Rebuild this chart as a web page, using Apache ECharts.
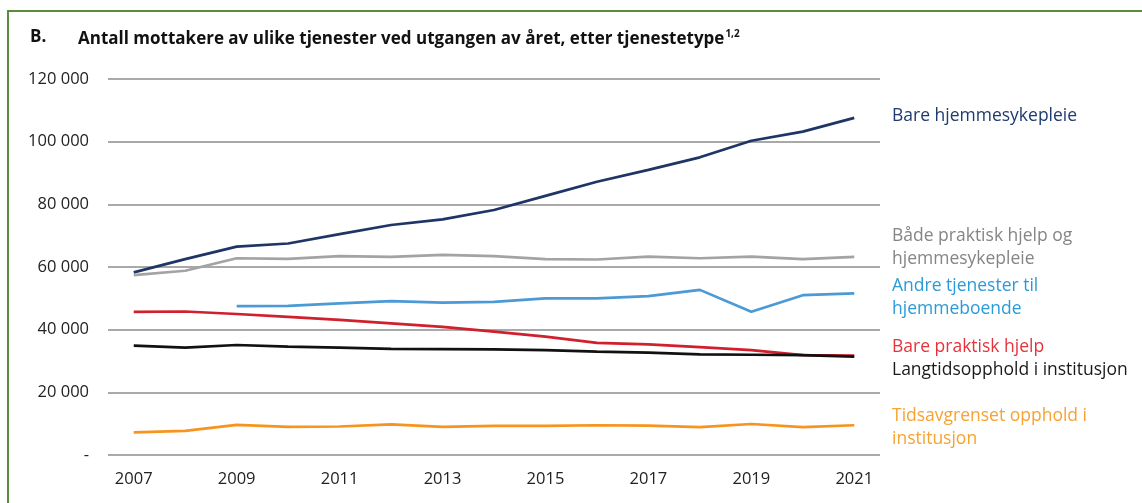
<!DOCTYPE html>
<html>
<head>
<meta charset="utf-8">
<script src="https://cdn.jsdelivr.net/npm/echarts@6/dist/echarts.min.js"></script>
<style>
  html, body { margin: 0; padding: 0; background: #fff; overflow: hidden; width: 1142px; height: 503px; }
  #frame {
    position: absolute; left: 7px; top: 10px; width: 1160px; height: 520px;
    border-left: 2px solid #5b8c3a; border-top: 2px solid #5b8c3a; box-sizing: border-box;
  }
  #chart { position: absolute; left: 0; top: 0; width: 1142px; height: 503px; }
</style>
</head>
<body>
<div id="frame"></div>
<div id="chart"></div>
<script>
var years = ['2007', '2008', '2009', '2010', '2011', '2012', '2013', '2014', '2015', '2016', '2017', '2018', '2019', '2020', '2021']

var bareHjemmesykepleie = [58300, 62500, 66500, 67500, 70500, 73400, 75200, 78200, 82700, 87200, 91000, 95000, 100300, 103200, 107600]
var baadePraktiskOgSykepleie = [57400, 58800, 62800, 62600, 63500, 63200, 63900, 63500, 62500, 62400, 63300, 62800, 63300, 62500, 63200]
var andreTjenester = [null, null, 47500, 47600, 48400, 49100, 48600, 48900, 50000, 50000, 50700, 52700, 45700, 51000, 51600]
var barePraktiskHjelp = [45700, 45800, 45000, 44100, 43100, 42000, 40900, 39400, 37800, 35800, 35300, 34400, 33500, 31900, 31700]
var langtidsopphold = [34900, 34300, 35100, 34600, 34300, 33900, 33800, 33700, 33500, 33000, 32700, 32100, 32000, 31900, 31400]
var tidsavgrenset = [7200, 7700, 9600, 9000, 9100, 9800, 9000, 9300, 9300, 9500, 9400, 8900, 9900, 8900, 9500]

var yTicks = [0, 20000, 40000, 60000, 80000, 100000, 120000]

var font = '"Open Sans", sans-serif'

function fmt(v) {
  if (v === 0) return '-'
  return String(v).replace(/\B(?=(\d{3})+(?!\d))/g, ' ')
}

function line(name, data, color, width) {
  return {
    name: name,
    type: 'line',
    data: data,
    symbol: 'none',
    smooth: false,
    lineStyle: { color: color, width: width || 2.7 },
    z: 3
  }
}

function label(x, y, text, color) {
  return {
    type: 'text', left: x, top: y,
    style: { text: text, fill: color, font: '17.5px ' + font, lineHeight: 22.5 }
  }
}

var myChart = echarts.init(document.getElementById('chart'))
var option = {
  animation: false,
  grid: { left: 108, right: 262, top: 79, bottom: 48 },
  xAxis: {
    type: 'category',
    data: years,
    boundaryGap: true,
    axisLine: { show: false },
    axisTick: { show: false },
    axisLabel: { interval: 1, color: '#222', fontFamily: font, fontSize: 16.5, margin: 16 }
  },
  yAxis: {
    type: 'value',
    min: yTicks[0],
    max: yTicks[yTicks.length - 1],
    interval: 20000,
    axisLine: { show: false },
    axisTick: { show: false },
    splitLine: { lineStyle: { color: '#8c8c8c', width: 1.5 } },
    axisLabel: { color: '#222', fontFamily: font, fontSize: 16.5, margin: 19, formatter: fmt }
  },
  series: [
    line('Bare hjemmesykepleie', bareHjemmesykepleie, '#1f3566'),
    line('Både praktisk hjelp og hjemmesykepleie', baadePraktiskOgSykepleie, '#a3a3a3'),
    line('Andre tjenester til hjemmeboende', andreTjenester, '#4b9ad6'),
    line('Bare praktisk hjelp', barePraktiskHjelp, '#d0202e'),
    line('Langtidsopphold i institusjon', langtidsopphold, '#111111'),
    line('Tidsavgrenset opphold i institusjon', tidsavgrenset, '#f7941d')
  ],
  graphic: [
    { type: 'text', left: 30, top: 29, style: { text: 'B.', fill: '#111', font: 'bold 17px ' + font } },
    {
      type: 'text', left: 78, top: 29,
      style: {
        text: '{t|Antall mottakere av ulike tjenester ved utgangen av året, etter tjenestetype}{s|1,2}',
        rich: {
          t: { fill: '#111', font: 'bold 17px ' + font },
          s: { fill: '#111', font: 'bold 10px ' + font, verticalAlign: 'top', padding: [0, 0, 10, 1] }
        }
      }
    },
    label(892, 105, 'Bare hjemmesykepleie', '#1f3a6e'),
    label(892, 225, 'Både praktisk hjelp og\nhjemmesykepleie', '#858585'),
    label(892, 275, 'Andre tjenester til\nhjemmeboende', '#2a9bd8'),
    label(892, 336, 'Bare praktisk hjelp', '#e5333b'),
    label(892, 359, 'Langtidsopphold i institusjon', '#1a1a1a'),
    label(892, 405, 'Tidsavgrenset opphold i\ninstitusjon', '#f7a231')
  ]
}
myChart.setOption(option)
</script>
</body>
</html>
